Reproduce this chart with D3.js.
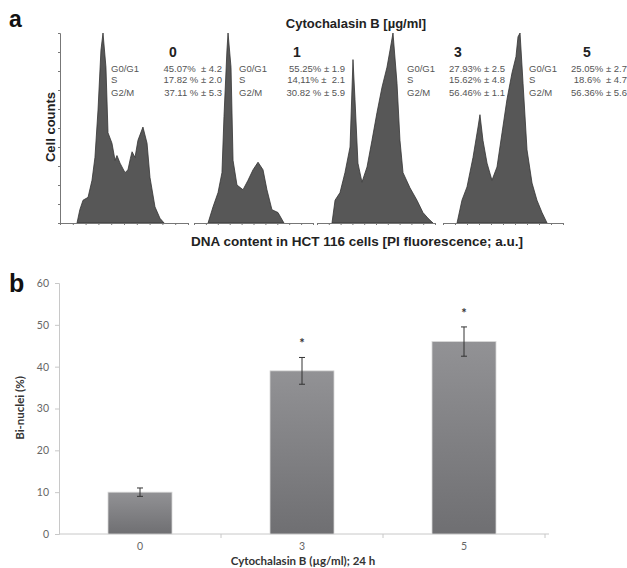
<!DOCTYPE html>
<html lang="en">
<head>
<meta charset="utf-8">
<script src="https://d3js.org/d3.v7.min.js"></script>
<style>
    body { margin: 0; background: #fff; }
    svg { display: block; }
    .stat { font: 9.5px "Liberation Sans", Arial, sans-serif; fill: #555; white-space: pre; }
    .bold-a { font: bold 13px "Liberation Sans", Arial, sans-serif; fill: #222; }
    .panel { font: bold 23px "Liberation Sans", Arial, sans-serif; fill: #111; }
    .bl { font-family: Lato, "Open Sans", sans-serif; }
</style>
</head>
<body>
<div id="chart"></div>
<script>
// panel a: DNA histograms, [channel 0-100, cell count]
var doses = ["0", "1", "3", "5"];
var hist0 = [[13.3,0],[15.5,14],[18,24],[21.9,27],[25,45],[27.3,69],[29.7,119],[32,182],[33.6,200],[35.9,164],[37.5,95],[40.6,84],[43,66],[44.5,71],[46.9,63],[50.8,53],[53.1,56],[55,68],[56.3,75],[58.6,69],[60.9,87],[64.8,101],[68,84],[70.3,48],[74.2,17],[78.1,5],[81.3,0]];
var hist1 = [[11.8,0],[16,17],[20.2,32],[23.5,53],[25.2,112],[27.7,182],[28.6,200],[31.1,164],[32.8,66],[36.1,40],[41.2,35],[45.4,45],[49.6,56],[53.8,64],[58,56],[61.3,35],[65.5,14],[70.6,11],[75.6,0]];
var hist3 = [[12.7,0],[15.3,24],[19.5,32],[23.7,53],[28,80],[30.5,172],[32.2,130],[34.7,63],[38.1,43],[42.4,59],[46.6,87],[50.8,116],[55.1,143],[59.3,164],[61.9,182],[64.4,200],[67.8,147],[70.3,87],[72.9,53],[78.8,37],[84.7,24],[89.8,11],[94.1,5],[98.3,0]];
var hist5 = [[11.7,0],[15.8,24],[20,38],[25,69],[29.2,101],[30.8,114],[33.3,87],[36.7,63],[40.8,45],[45,59],[49.2,95],[53.3,130],[57.5,158],[60.8,175],[62.5,196],[64.2,200],[66.7,147],[70,77],[74.2,42],[78.3,24],[82.5,11],[86.7,0]];
var histograms = [hist0, hist1, hist3, hist5];

var phases = ["G0/G1", "S", "G2/M"];
var stats0 = ["45.07%  ± 4.2", "17.82 % ± 2.0", "37.11 % ± 5.3"];
var stats1 = ["55.25% ± 1.9", "14,11% ±  2.1", "30.82 % ± 5.9"];
var stats3 = ["27.93% ± 2.5", "15.62% ± 4.8", "56.46% ± 1.1"];
var stats5 = ["25.05% ± 2.7", "18.6%  ± 4.7", "56.36% ± 5.6"];
var stats = [stats0, stats1, stats3, stats5];

// panel b: bi-nucleated cells
var dosesB = ["0", "3", "5"];
var binuclei = [10, 39, 46];
var binucleiErr = [1, 3.2, 3.5];
var significant = [false, true, true];

var W = 627, H = 568;
var svg = d3.select("#chart").append("svg").attr("width", W).attr("height", H);

// ---------- panel a ----------
svg.append("text").attr("class", "panel").attr("x", 9).attr("y", 27).text("a");
svg.append("text").attr("class", "bold-a").attr("x", 356).attr("y", 28)
    .attr("text-anchor", "middle").text("Cytochalasin B [µg/ml]");

var yA = d3.scaleLinear().domain([0, 200]).range([223, 33]);
svg.append("g")
    .attr("transform", "translate(60,0)")
    .call(d3.axisLeft(yA).ticks(10).tickSize(2).tickFormat(""))
    .call(function (g) {
        g.selectAll("line, path").attr("stroke", "#777");
    });

svg.append("text").attr("class", "bold-a")
    .attr("transform", "translate(55,127) rotate(-90)")
    .attr("text-anchor", "middle").text("Cell counts");

var segs = [[60, 188], [194, 313], [317, 435], [443, 563]];
var labelX = [111, 239, 407, 529];
var valueX = [222, 345, 505, 627];
var doseX = [173, 297, 458, 587];

histograms.forEach(function (h, i) {
    var x = d3.scaleLinear().domain([0, 100]).range(segs[i]);
    var area = d3.area()
        .x(function (d) { return x(d[0]); })
        .y0(yA(0))
        .y1(function (d) { return yA(d[1]); });
    svg.append("path").datum(h)
        .attr("d", area)
        .attr("fill", "#575757")
        .attr("stroke", "#333")
        .attr("stroke-width", 0.8);
    svg.append("g")
        .attr("transform", "translate(0,223)")
        .call(d3.axisBottom(x).ticks(10).tickSize(2).tickSizeOuter(0).tickFormat(""))
        .call(function (g) {
            g.selectAll("line, path").attr("stroke", "#777");
        });
});

doses.forEach(function (d, i) {
    svg.append("text").attr("class", "bold-a")
        .attr("x", doseX[i]).attr("y", 57)
        .attr("text-anchor", "middle").style("font-size", "14px").text(d);
    phases.forEach(function (p, j) {
        var yy = [72, 83, 96][j];
        svg.append("text").attr("class", "stat")
            .attr("x", labelX[i]).attr("y", yy).text(p);
        svg.append("text").attr("class", "stat")
            .attr("x", valueX[i]).attr("y", yy)
            .attr("text-anchor", "end").text(stats[i][j]);
    });
});

svg.append("text").attr("class", "bold-a")
    .attr("x", 357).attr("y", 246)
    .attr("text-anchor", "middle").style("font-size", "13.5px")
    .text("DNA content in HCT 116 cells [PI fluorescence; a.u.]");

// ---------- panel b ----------
svg.append("text").attr("class", "panel").attr("x", 9).attr("y", 292)
    .style("font-size", "25px").text("b");

var xB = d3.scaleBand().domain(dosesB).range([59, 545]).paddingInner(0).paddingOuter(0);
var yB = d3.scaleLinear().domain([0, 60]).range([534, 283]);

var defs = svg.append("defs");
var grad = defs.append("linearGradient").attr("id", "barGrad")
    .attr("x1", 0).attr("y1", 0).attr("x2", 0).attr("y2", 1);
grad.append("stop").attr("offset", "0%").attr("stop-color", "#929295");
grad.append("stop").attr("offset", "100%").attr("stop-color", "#6f6f72");

var yAxisB = svg.append("g")
    .attr("transform", "translate(59,0)")
    .call(d3.axisLeft(yB).tickValues(d3.range(0, 61, 10)).tickSize(4).tickPadding(6));
yAxisB.selectAll("line, path").attr("stroke", "#c8c8c8");
yAxisB.selectAll("text").attr("class", "bl").style("font-size", "10.5px").attr("fill", "#666");

var xAxisB = svg.append("g")
    .attr("transform", "translate(0,534)");
xAxisB.append("line").attr("x1", 59).attr("x2", 549).attr("stroke", "#c8c8c8");
xAxisB.selectAll(".tk").data(dosesB).enter().append("line")
    .attr("x1", function (d) { return xB(d) + xB.bandwidth(); })
    .attr("x2", function (d) { return xB(d) + xB.bandwidth(); })
    .attr("y1", 0).attr("y2", 4).attr("stroke", "#c8c8c8");
xAxisB.selectAll(".lbl").data(dosesB).enter().append("text")
    .attr("class", "bl")
    .attr("x", function (d) { return xB(d) + xB.bandwidth() / 2; })
    .attr("y", 16).attr("text-anchor", "middle")
    .style("font-size", "10.5px").attr("fill", "#666")
    .text(function (d) { return d; });

var barW = 64;
var bars = svg.selectAll(".bar").data(dosesB).enter();
bars.append("rect")
    .attr("x", function (d) { return xB(d) + xB.bandwidth() / 2 - barW / 2; })
    .attr("y", function (d, i) { return yB(binuclei[i]); })
    .attr("width", barW)
    .attr("height", function (d, i) { return yB(0) - yB(binuclei[i]); })
    .attr("fill", "url(#barGrad)")
    .attr("stroke", "#d8d8d8").attr("stroke-width", 0.8);

dosesB.forEach(function (d, i) {
    var cx = xB(d) + xB.bandwidth() / 2;
    var top = yB(binuclei[i] + binucleiErr[i]), bot = yB(binuclei[i] - binucleiErr[i]);
    svg.append("line").attr("x1", cx).attr("x2", cx).attr("y1", top).attr("y2", bot)
        .attr("stroke", "#333").attr("stroke-width", 1);
    [top, bot].forEach(function (yy) {
        svg.append("line").attr("x1", cx - 3).attr("x2", cx + 3).attr("y1", yy).attr("y2", yy)
            .attr("stroke", "#333").attr("stroke-width", 1);
    });
    if (significant[i]) {
        svg.append("text").attr("x", cx).attr("y", top - 9)
            .attr("text-anchor", "middle").attr("class", "bl")
            .style("font-size", "13px").style("font-weight", "bold").attr("fill", "#333")
            .text("*");
    }
});

svg.append("text").attr("class", "bl")
    .attr("transform", "translate(24,408) rotate(-90)")
    .attr("text-anchor", "middle")
    .style("font-size", "11.5px").style("font-weight", "bold").attr("fill", "#333")
    .text("Bi-nuclei (%)");

svg.append("text").attr("class", "bl")
    .attr("x", 303).attr("y", 565)
    .attr("text-anchor", "middle")
    .style("font-size", "11.5px").style("font-weight", "bold").attr("fill", "#333")
    .text("Cytochalasin B (µg/ml); 24 h");
</script>
</body>
</html>
